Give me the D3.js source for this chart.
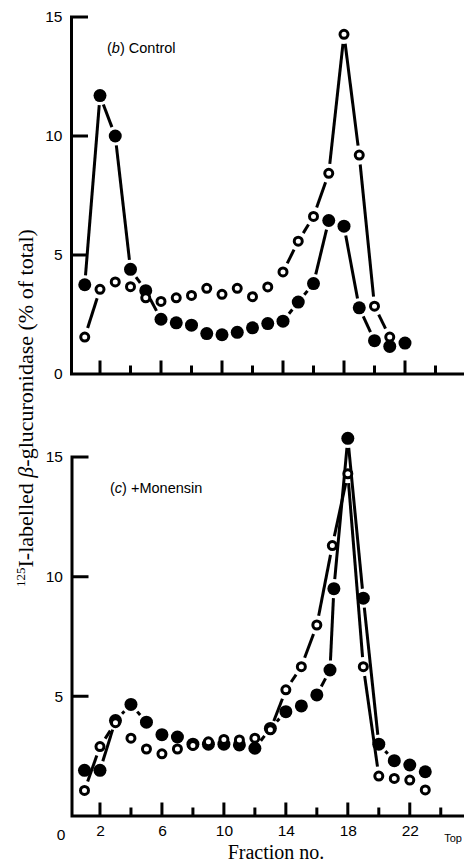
<!DOCTYPE html>
<html>
<head>
<meta charset="utf-8">
<script src="https://cdn.jsdelivr.net/npm/d3@7"></script>
<style>
  body { margin: 0; background: #fff; }
  svg { display: block; }
</style>
</head>
<body>
<svg id="chart" width="464" height="863"></svg>
<script>
// (b) Control
const controlFilledFrac = [1, 2, 3, 4, 5, 6, 7, 8, 9, 10, 11, 12, 13, 14, 15, 16, 17, 18, 19, 20, 21, 22];
const controlFilled = [3.75, 11.7, 10.0, 4.4, 3.5, 2.3, 2.15, 2.05, 1.7, 1.65, 1.75, 1.94, 2.12, 2.22, 3.02, 3.8, 6.45, 6.21, 2.78, 1.4, 1.16, 1.3];
const controlOpenFrac = [1, 2, 3, 4, 5, 6, 7, 8, 9, 10, 11, 12, 13, 14, 15, 16, 17, 18, 19, 20, 21];
const controlOpen = [1.55, 3.56, 3.87, 3.67, 3.2, 3.05, 3.2, 3.3, 3.6, 3.35, 3.6, 3.25, 3.66, 4.29, 5.58, 6.62, 8.43, 14.27, 9.2, 2.85, 1.55];

// (c) +Monensin
const monFilledFrac = [1, 2, 3, 4, 5, 6, 7, 8, 9, 10, 11, 12, 13, 14, 15, 16, 16.85, 17.1, 18, 19, 20, 21, 22, 23];
const monFilled = [1.91, 1.91, 3.99, 4.66, 3.92, 3.4, 3.3, 3.0, 3.0, 3.0, 2.97, 2.83, 3.66, 4.36, 4.6, 5.06, 6.1, 9.5, 15.78, 9.1, 3.0, 2.31, 2.13, 1.85];
const monOpenFrac = [1, 2, 3, 4, 5, 6, 7, 8, 9, 10, 11, 12, 13, 14, 15, 16, 17, 18, 19, 20, 21, 22, 23];
const monOpen = [1.07, 2.9, 3.9, 3.25, 2.8, 2.6, 2.8, 2.95, 3.1, 3.2, 3.18, 3.25, 3.6, 5.27, 6.24, 7.98, 11.3, 14.3, 6.24, 1.67, 1.57, 1.5, 1.09];

const yTicks = [0, 5, 10, 15];
const xTicksTop = [2, 4, 6, 8, 10, 12, 14, 16, 18, 20, 22, 24, 26];
const xTicksBottom = [2, 4, 6, 8, 10, 12, 14, 16, 18, 20, 22, 24];
const xLabels = [2, 6, 10, 14, 18, 22];

const sans = "'Liberation Sans', Arial, sans-serif";
const serif = "'Liberation Serif', 'Times New Roman', serif";
const gap = 9.5;
const lw = 3;

const svg = d3.select("#chart");
const frames = [];

function panel(opts) {
  const x = d3.scaleLinear().domain(opts.xDomain).range(opts.xRange);
  const y = d3.scaleLinear().domain([0, 15]).range(opts.yRange);
  const g = svg.append("g");
  const base = opts.yRange[0];

  // tick labels from d3 axes
  const xAxis = g.append("g")
    .attr("transform", `translate(0,${base})`)
    .call(d3.axisBottom(x)
      .tickValues(opts.xTicks)
      .tickSize(0)
      .tickPadding(9)
      .tickFormat(d => opts.showX && xLabels.includes(d) ? d : ""));
  xAxis.select(".domain").remove();
  xAxis.selectAll(".tick line").remove();
  xAxis.selectAll(".tick text")
    .attr("font-family", sans).attr("font-size", 15.5).attr("fill", "#000");

  const yAxis = g.append("g")
    .attr("transform", `translate(${opts.yAxisX},0)`)
    .call(d3.axisLeft(y)
      .tickValues(opts.yTickValues)
      .tickSize(0)
      .tickPadding(9));
  yAxis.select(".domain").remove();
  yAxis.selectAll(".tick line").remove();
  yAxis.selectAll(".tick text")
    .attr("font-family", sans).attr("font-size", 15.5).attr("fill", "#000");

  series(g, x, y, opts.filledFrac, opts.filled, true);
  series(g, x, y, opts.openFrac, opts.open, false);

  g.append("text")
    .attr("x", opts.title[0]).attr("y", opts.title[1])
    .attr("font-family", sans).attr("font-size", 14.5)
    .call(t => {
      t.append("tspan").text("(");
      t.append("tspan").attr("font-style", "italic").text(opts.letter);
      t.append("tspan").text(") " + opts.name);
    });

  // frame path: y axis with inward ticks, x axis with upward ticks
  const a = opts.yAxisX;
  let d = `M${a + 15},${y(15)}H${a}V${base}H${opts.xRange[1]}`;
  yTicks.filter(v => v > 0 && v < 15).forEach(v => { d += `M${a},${y(v)}H${a + 15}`; });
  opts.xTicks.forEach(v => {
    const h = ((v - 2) % 4 === 0) ? 12 : 7;
    d += `M${x(v)},${base}V${base - h}`;
  });
  frames.push(d);

  return { x, y, g };
}

function series(g, x, y, fr, vals, filled) {
  const pts = fr.map((f, i) => [x(f), y(vals[i])]);
  const segs = d3.pairs(pts).map(([a, b]) => {
    const dx = b[0] - a[0], dy = b[1] - a[1], L = Math.hypot(dx, dy);
    if (L < 2 * gap + 3) return null;
    const ux = dx / L, uy = dy / L;
    return [a[0] + ux * gap, a[1] + uy * gap, b[0] - ux * gap, b[1] - uy * gap];
  }).filter(Boolean);

  g.append("g").selectAll("line").data(segs).join("line")
    .attr("x1", d => d[0]).attr("y1", d => d[1])
    .attr("x2", d => d[2]).attr("y2", d => d[3])
    .attr("stroke", "#000").attr("stroke-width", lw);

  g.append("g").selectAll("circle").data(pts).join("circle")
    .attr("cx", d => d[0]).attr("cy", d => d[1])
    .attr("r", filled ? 6.5 : 4)
    .attr("fill", filled ? "#000" : "#fff")
    .attr("stroke", filled ? "none" : "#000")
    .attr("stroke-width", filled ? 0 : 3);
}

panel({
  xDomain: [0, 26], xRange: [69.5, 466], yRange: [374, 17], yAxisX: 71.5,
  xTicks: xTicksTop, showX: false, yTickValues: yTicks,
  filledFrac: controlFilledFrac, filled: controlFilled,
  openFrac: controlOpenFrac, open: controlOpen,
  title: [107, 53], letter: "b", name: "Control"
});

const bottom = panel({
  xDomain: [0, 25.5], xRange: [69, 464], yRange: [816, 457], yAxisX: 72,
  xTicks: xTicksBottom, showX: true, yTickValues: [5, 10, 15],
  filledFrac: monFilledFrac, filled: monFilled,
  openFrac: monOpenFrac, open: monOpen,
  title: [110, 493], letter: "c", name: "+Monensin"
});

// origin label under bottom panel
svg.append("text")
  .attr("x", bottom.x(0) - 8).attr("y", 840)
  .attr("text-anchor", "middle")
  .attr("font-family", sans).attr("font-size", 15.5)
  .text("0");

svg.append("text")
  .attr("x", 462).attr("y", 842)
  .attr("text-anchor", "end")
  .attr("font-family", sans).attr("font-size", 11)
  .text("Top");

svg.append("text")
  .attr("x", 276).attr("y", 859)
  .attr("text-anchor", "middle")
  .attr("font-family", serif).attr("font-size", 20)
  .text("Fraction no.");

// y axis title
const yt = svg.append("text")
  .attr("transform", "translate(33,408) rotate(-90)")
  .attr("text-anchor", "middle")
  .attr("font-family", serif).attr("font-size", 22);
yt.append("tspan").attr("font-size", 13).attr("dy", -8).text("125");
yt.append("tspan").attr("dy", 8).text("I-labelled ");
yt.append("tspan").attr("font-style", "italic").text("β");
yt.append("tspan").text("-glucuronidase (% of total)");

// axis frames drawn last
svg.append("g").selectAll("path").data(frames).join("path")
  .attr("d", d => d)
  .attr("fill", "none")
  .attr("stroke", "#000")
  .attr("stroke-width", lw)
  .attr("stroke-linecap", "square");
</script>
</body>
</html>
